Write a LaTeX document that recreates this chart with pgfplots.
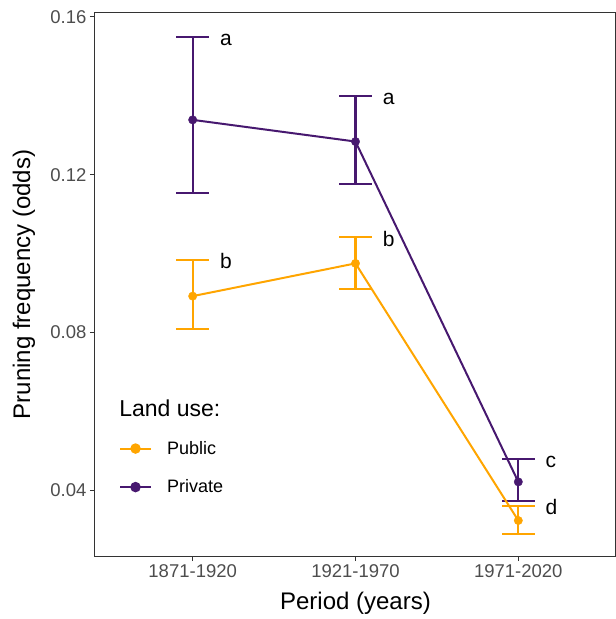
\documentclass[border=0pt]{standalone}
\usepackage{fontspec}
\setmainfont{Liberation Sans}
\usepackage{pgfplots}
\pgfplotsset{compat=1.18}
\definecolor{pub}{HTML}{FFA500}
\definecolor{pri}{HTML}{47186F}
\definecolor{axgray}{HTML}{333333}
\definecolor{tickgray}{HTML}{4D4D4D}
\begin{document}
\begin{tikzpicture}
\begin{axis}[
 scale only axis, width=521pt, height=543pt,
 xmin=0.4, xmax=3.6, ymin=0.0233, ymax=0.161,
 xtick={1,2,3}, xticklabels={1871-1920,1921-1970,1971-2020},
 ytick={0.04,0.08,0.12,0.16}, yticklabels={0.04,0.08,0.12,0.16},
 /pgf/number format/assume math mode=true,
 tick align=outside, tick pos=left, major tick length=5pt,
 tick style={axgray, line width=1pt},
 axis line style={axgray, line width=1pt},
 ticklabel style={font=\fontsize{18.5}{20}\selectfont, text=tickgray},
 xlabel={Period (years)}, ylabel={Pruning frequency (odds)},
 label style={font=\fontsize{24}{28}\selectfont},
 xlabel style={at={([yshift=-47pt]axis description cs:0.5,0)}, anchor=center},
 ylabel style={at={([xshift=-71pt]axis description cs:0,0.5)}, anchor=center},
 clip=false, unbounded coords=jump,
 legend image code/.code={\draw[mark repeat=2,mark phase=2,#1] plot coordinates {(0pt,0pt)(15.5pt,0pt)(31pt,0pt)};},
 legend style={at={(axis description cs:0.04,0.219)}, anchor=north west, draw=none, fill=none,
   font=\fontsize{18}{20}\selectfont, row sep=20pt, column sep=13pt, cells={anchor=west}},
 ebar/.style={line width=2.1pt, forget plot, line cap=butt},
]
% error bars (public): whiskers
\addplot[pub, ebar] coordinates {(1,0.0808) (1,0.0984)};
\addplot[pub, ebar] coordinates {(2,0.0911) (2,0.1041)};
\addplot[pub, ebar] coordinates {(3,0.0289) (3,0.0360)};
% error bars (private): whiskers
\addplot[pri, ebar] coordinates {(1,0.1154) (1,0.1549)};
\addplot[pri, ebar] coordinates {(2,0.1176) (2,0.1400)};
\addplot[pri, ebar] coordinates {(3,0.0372) (3,0.0479)};
% caps
\addplot[pub, ebar] coordinates {
  (0.9,0.0984) (1.1,0.0984) (1,nan)
  (0.9,0.0808) (1.1,0.0808) (1,nan)
  (1.9,0.1041) (2.1,0.1041) (2,nan)
  (1.9,0.0911) (2.1,0.0911) (2,nan)
  (2.9,0.0360) (3.1,0.0360) (3,nan)
  (2.9,0.0289) (3.1,0.0289)
  };
\addplot[pri, ebar] coordinates {
  (0.9,0.1549) (1.1,0.1549) (1,nan)
  (0.9,0.1154) (1.1,0.1154) (1,nan)
  (1.9,0.1400) (2.1,0.1400) (2,nan)
  (1.9,0.1176) (2.1,0.1176) (2,nan)
  (2.9,0.0479) (3.1,0.0479) (3,nan)
  (2.9,0.0372) (3.1,0.0372)
  };
% lines
\addplot[pub, line width=2pt, mark=none, forget plot] coordinates {(1,0.0892) (2,0.0975) (3,0.0323)};
\addplot[pri, line width=2pt, mark=none, forget plot] coordinates {(1,0.1339) (2,0.1284) (3,0.0421)};
% points
\addplot[pub, only marks, mark=*, mark size=4.2pt, mark options={draw=none, fill=pub}, forget plot] coordinates {(1,0.0892) (2,0.0975) (3,0.0323)};
\addplot[pri, only marks, mark=*, mark size=4.2pt, mark options={draw=none, fill=pri}, forget plot] coordinates {(1,0.1339) (2,0.1284) (3,0.0421)};
% legend
\addlegendimage{pub, line width=2pt, mark=*, mark size=4.2pt, mark options={draw=none, fill=pub}}
\addlegendentry{Public}
\addlegendimage{pri, line width=2pt, mark=*, mark size=4.2pt, mark options={draw=none, fill=pri}}
\addlegendentry{Private}
\node[anchor=west, font=\fontsize{23}{27}\selectfont] at (axis description cs:0.040,0.2726) {Land use:};
% letters
\begin{scope}[every node/.style={anchor=west, font=\fontsize{21}{24}\selectfont, inner sep=0pt}]
\node[yshift=-3pt] at (axis cs:1.167,0.1549) {a};
\node[yshift=-1.5pt] at (axis cs:1.167,0.0984) {b};
\node[yshift=-3pt] at (axis cs:2.167,0.1400) {a};
\node[yshift=-1.5pt] at (axis cs:2.167,0.1041) {b};
\node[yshift=-3pt] at (axis cs:3.167,0.0479) {c};
\node[yshift=-1.5pt] at (axis cs:3.167,0.0360) {d};
\end{scope}
\coordinate (ll) at (rel axis cs:0,0);
\coordinate (ur) at (rel axis cs:1,1);
\end{axis}
\pgfresetboundingbox
\useasboundingbox ([xshift=-95pt,yshift=-63pt]ll) rectangle ([yshift=13pt]ur);
\end{tikzpicture}
\end{document}
